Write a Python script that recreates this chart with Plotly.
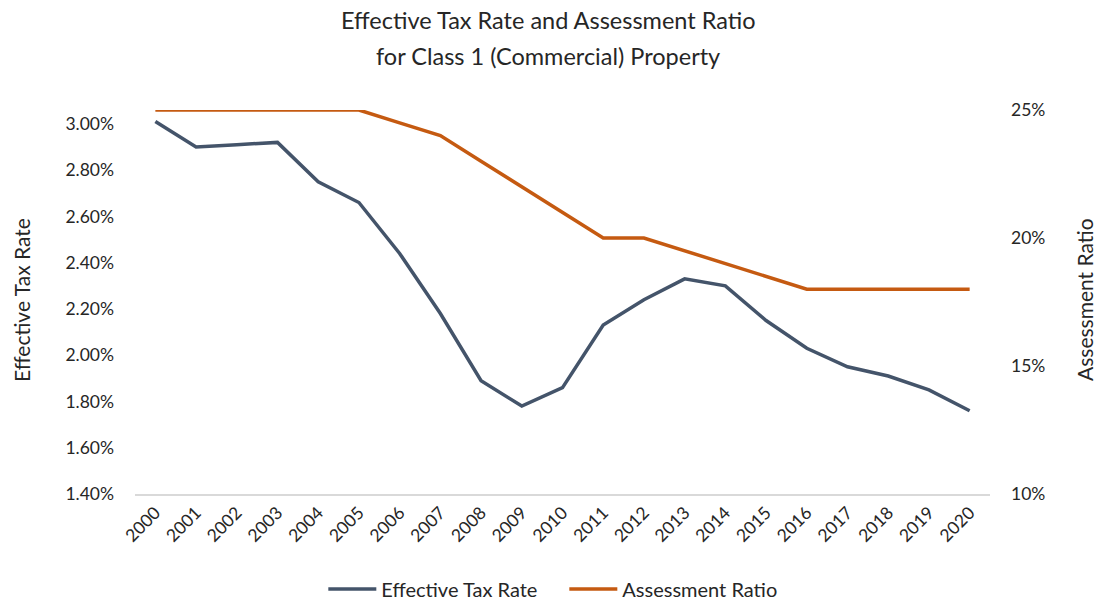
import plotly.graph_objects as go

years = [str(y) for y in range(2000, 2021)]

# Effective tax rate, percent
tax_rate = [3.01, 2.90, 2.91, 2.92, 2.75, 2.66, 2.44, 2.18, 1.89, 1.78, 1.86,
            2.13, 2.24, 2.33, 2.30, 2.15, 2.03, 1.95, 1.91, 1.85, 1.76]

# Assessment ratio, percent
assessment_ratio = [25, 25, 25, 25, 25, 25, 24.5, 24, 23, 22, 21,
                    20, 20, 19.5, 19, 18.5, 18, 18, 18, 18, 18]

left_ticks = [1.4, 1.6, 1.8, 2.0, 2.2, 2.4, 2.6, 2.8, 3.0]
left_labels = [f"{v:.2f}%" for v in left_ticks]
right_ticks = [10, 15, 20, 25]
right_labels = [f"{v}%" for v in right_ticks]

title_lines = ["Effective Tax Rate and Assessment Ratio",
               "for Class 1 (Commercial) Property"]

FONT = "Lato, 'Open Sans', sans-serif"
TEXT = "#262626"
W, H = 1096, 603

fig = go.Figure()
fig.add_trace(go.Scatter(
    x=years, y=tax_rate, name="Effective Tax Rate", mode="lines",
    line=dict(color="#44546A", width=3.5), yaxis="y",
))
fig.add_trace(go.Scatter(
    x=years, y=assessment_ratio, name="Assessment Ratio", mode="lines",
    line=dict(color="#C55A11", width=3.5), yaxis="y2",
))

annotations = []
# two-line chart title
for i, line in enumerate(title_lines):
    annotations.append(dict(
        text=line, xref="paper", yref="paper",
        x=(548 - 135) / (W - 135 - 106), y=1 + (110 - (20 + 36 * i)) / 384,
        xanchor="center", yanchor="middle", showarrow=False,
        font=dict(size=23.5, family=FONT, color=TEXT),
    ))
# axis titles
annotations.append(dict(
    text="Effective Tax Rate", xref="paper", yref="paper",
    x=-(135 - 21) / 855, y=(494 - 300) / 384, textangle=-90,
    xanchor="center", yanchor="middle", showarrow=False,
    font=dict(size=21, family=FONT, color=TEXT),
))
annotations.append(dict(
    text="Assessment Ratio", xref="paper", yref="paper",
    x=1 + (1084 - 990) / 855, y=(494 - 300) / 384, textangle=-90,
    xanchor="center", yanchor="middle", showarrow=False,
    font=dict(size=21, family=FONT, color=TEXT),
))

fig.update_layout(
    width=W, height=H,
    margin=dict(l=135, r=106, t=110, b=109, autoexpand=False),
    paper_bgcolor="white", plot_bgcolor="white",
    font=dict(family=FONT, color=TEXT, size=17),
    xaxis=dict(
        type="category", range=[-0.5, 20.5], automargin=False,
        tickangle=-45, showgrid=False, showline=True,
        linecolor="#D9D9D9", linewidth=1.5, ticks="",
        tickfont=dict(size=17.5), fixedrange=True,
    ),
    yaxis=dict(
        range=[1.4, 3.06], tickvals=left_ticks, ticktext=left_labels,
        automargin=False,
        showgrid=False, zeroline=False, showline=False, ticks="",
        ticklabelstandoff=20, tickfont=dict(size=17.5),
    ),
    yaxis2=dict(
        range=[10, 25], tickvals=right_ticks, ticktext=right_labels,
        overlaying="y", side="right", automargin=False,
        showgrid=False, zeroline=False, showline=False, ticks="",
        ticklabelstandoff=20, tickfont=dict(size=17.5),
    ),
    legend=dict(
        orientation="h", x=0.295, xref="container", xanchor="left",
        y=1 - 589 / H, yref="container", yanchor="middle",
        font=dict(size=20), traceorder="normal",
        entrywidth=178, itemwidth=48,
    ),
    annotations=annotations,
    showlegend=True,
)

fig.write_html("out.html")
